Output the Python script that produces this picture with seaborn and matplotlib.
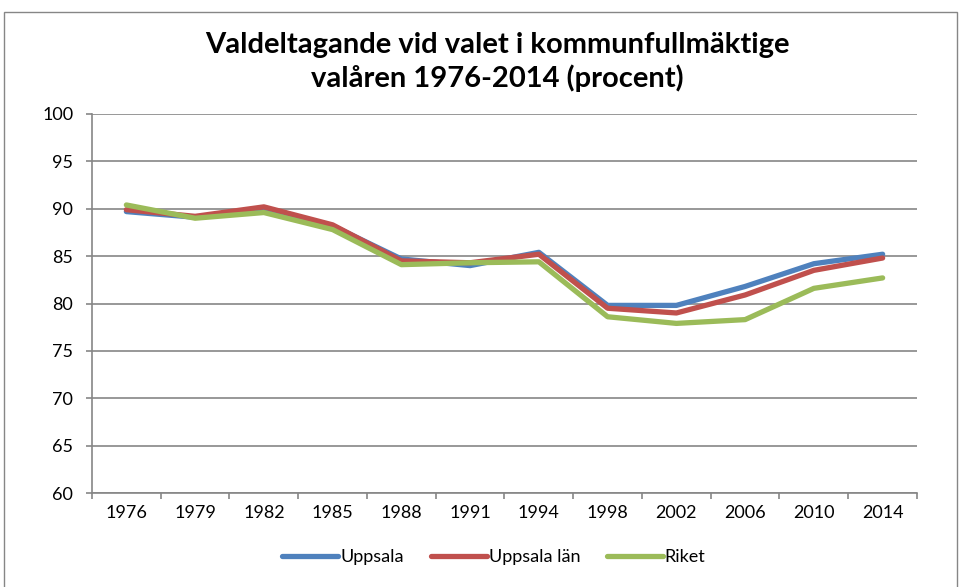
import numpy as np
import pandas as pd
import matplotlib
matplotlib.use('Agg')
import matplotlib.pyplot as plt
import seaborn as sns
from matplotlib.patches import Rectangle
from matplotlib.ticker import FixedLocator

# data
years = ['1976', '1979', '1982', '1985', '1988', '1991', '1994',
         '1998', '2002', '2006', '2010', '2014']
uppsala = [89.7, 89.1, 90.0, 88.2, 84.7, 84.0, 85.4, 79.8, 79.8, 81.8, 84.2, 85.2]
uppsala_lan = [89.9, 89.2, 90.2, 88.3, 84.5, 84.3, 85.2, 79.5, 79.0, 80.9, 83.5, 84.8]
riket = [90.4, 89.0, 89.6, 87.8, 84.1, 84.3, 84.4, 78.6, 77.9, 78.3, 81.6, 82.7]

series_names = ['Uppsala', 'Uppsala län', 'Riket']
colors = ['#4F81BD', '#C0504D', '#9BBB59']

df = pd.DataFrame({'year': years * 3,
                   'pos': list(range(len(years))) * 3,
                   'value': uppsala + uppsala_lan + riket,
                   'serie': np.repeat(series_names, len(years))})

sns.set_style('white')
plt.rcParams['font.family'] = ['Lato', 'DejaVu Sans']
plt.rcParams['text.color'] = 'black'

fig = plt.figure(figsize=(9.62, 5.87), dpi=100)
ax = fig.add_axes([92 / 962, 1 - 493 / 587, (917 - 92) / 962, (493 - 114) / 587])

sns.lineplot(data=df, x='pos', y='value', hue='serie', hue_order=series_names,
             palette=colors, linewidth=3.8, ax=ax, legend=True,
             solid_capstyle='round')

ax.set_xlim(-0.5, len(years) - 0.5)
ax.set_ylim(60, 100)
ax.set_yticks(range(60, 101, 5))
ax.set_xticks(range(len(years)))
ax.set_xticklabels(years)
ax.xaxis.set_minor_locator(FixedLocator(np.arange(-0.5, len(years), 1)))
ax.tick_params(axis='x', which='major', length=0, labelsize=13, pad=9, labelcolor='black')
ax.tick_params(axis='x', which='minor', length=4.5, color='#868686', width=1.2, direction='out', bottom=True)
ax.tick_params(axis='y', length=4.5, color='#868686', width=1.2, direction='out', left=True,
               labelsize=13, pad=9, labelcolor='black')
ax.set_xlabel('')
ax.set_ylabel('')
ax.grid(axis='y', color='#868686', linewidth=1.2)
ax.set_axisbelow(True)
for s in ['top', 'right']:
    ax.spines[s].set_visible(False)
for s in ['left', 'bottom']:
    ax.spines[s].set_color('#868686')
    ax.spines[s].set_linewidth(1.2)

fig.text(497 / 962, 1 - 62 / 587, 'Valdeltagande vid valet i kommunfullmäktige\nvalåren 1976-2014 (procent)',
         ha='center', va='center', fontsize=21, fontweight='bold', linespacing=1.3, color='black')

leg = ax.legend(loc='center', frameon=False, ncol=3, fontsize=13,
                handlelength=3.1, columnspacing=1.5, handletextpad=0.1)
leg.set_bbox_to_anchor((494 / 962, 1 - 557 / 587), transform=fig.transFigure)
for t in leg.get_texts():
    t.set_color('black')

fig.patches.append(Rectangle((4 / 962, -0.01), 953 / 962, 1 - 12 / 587 + 0.01,
                             transform=fig.transFigure, fill=False,
                             edgecolor='#868686', linewidth=1))

fig.savefig('out.png', dpi=100)
